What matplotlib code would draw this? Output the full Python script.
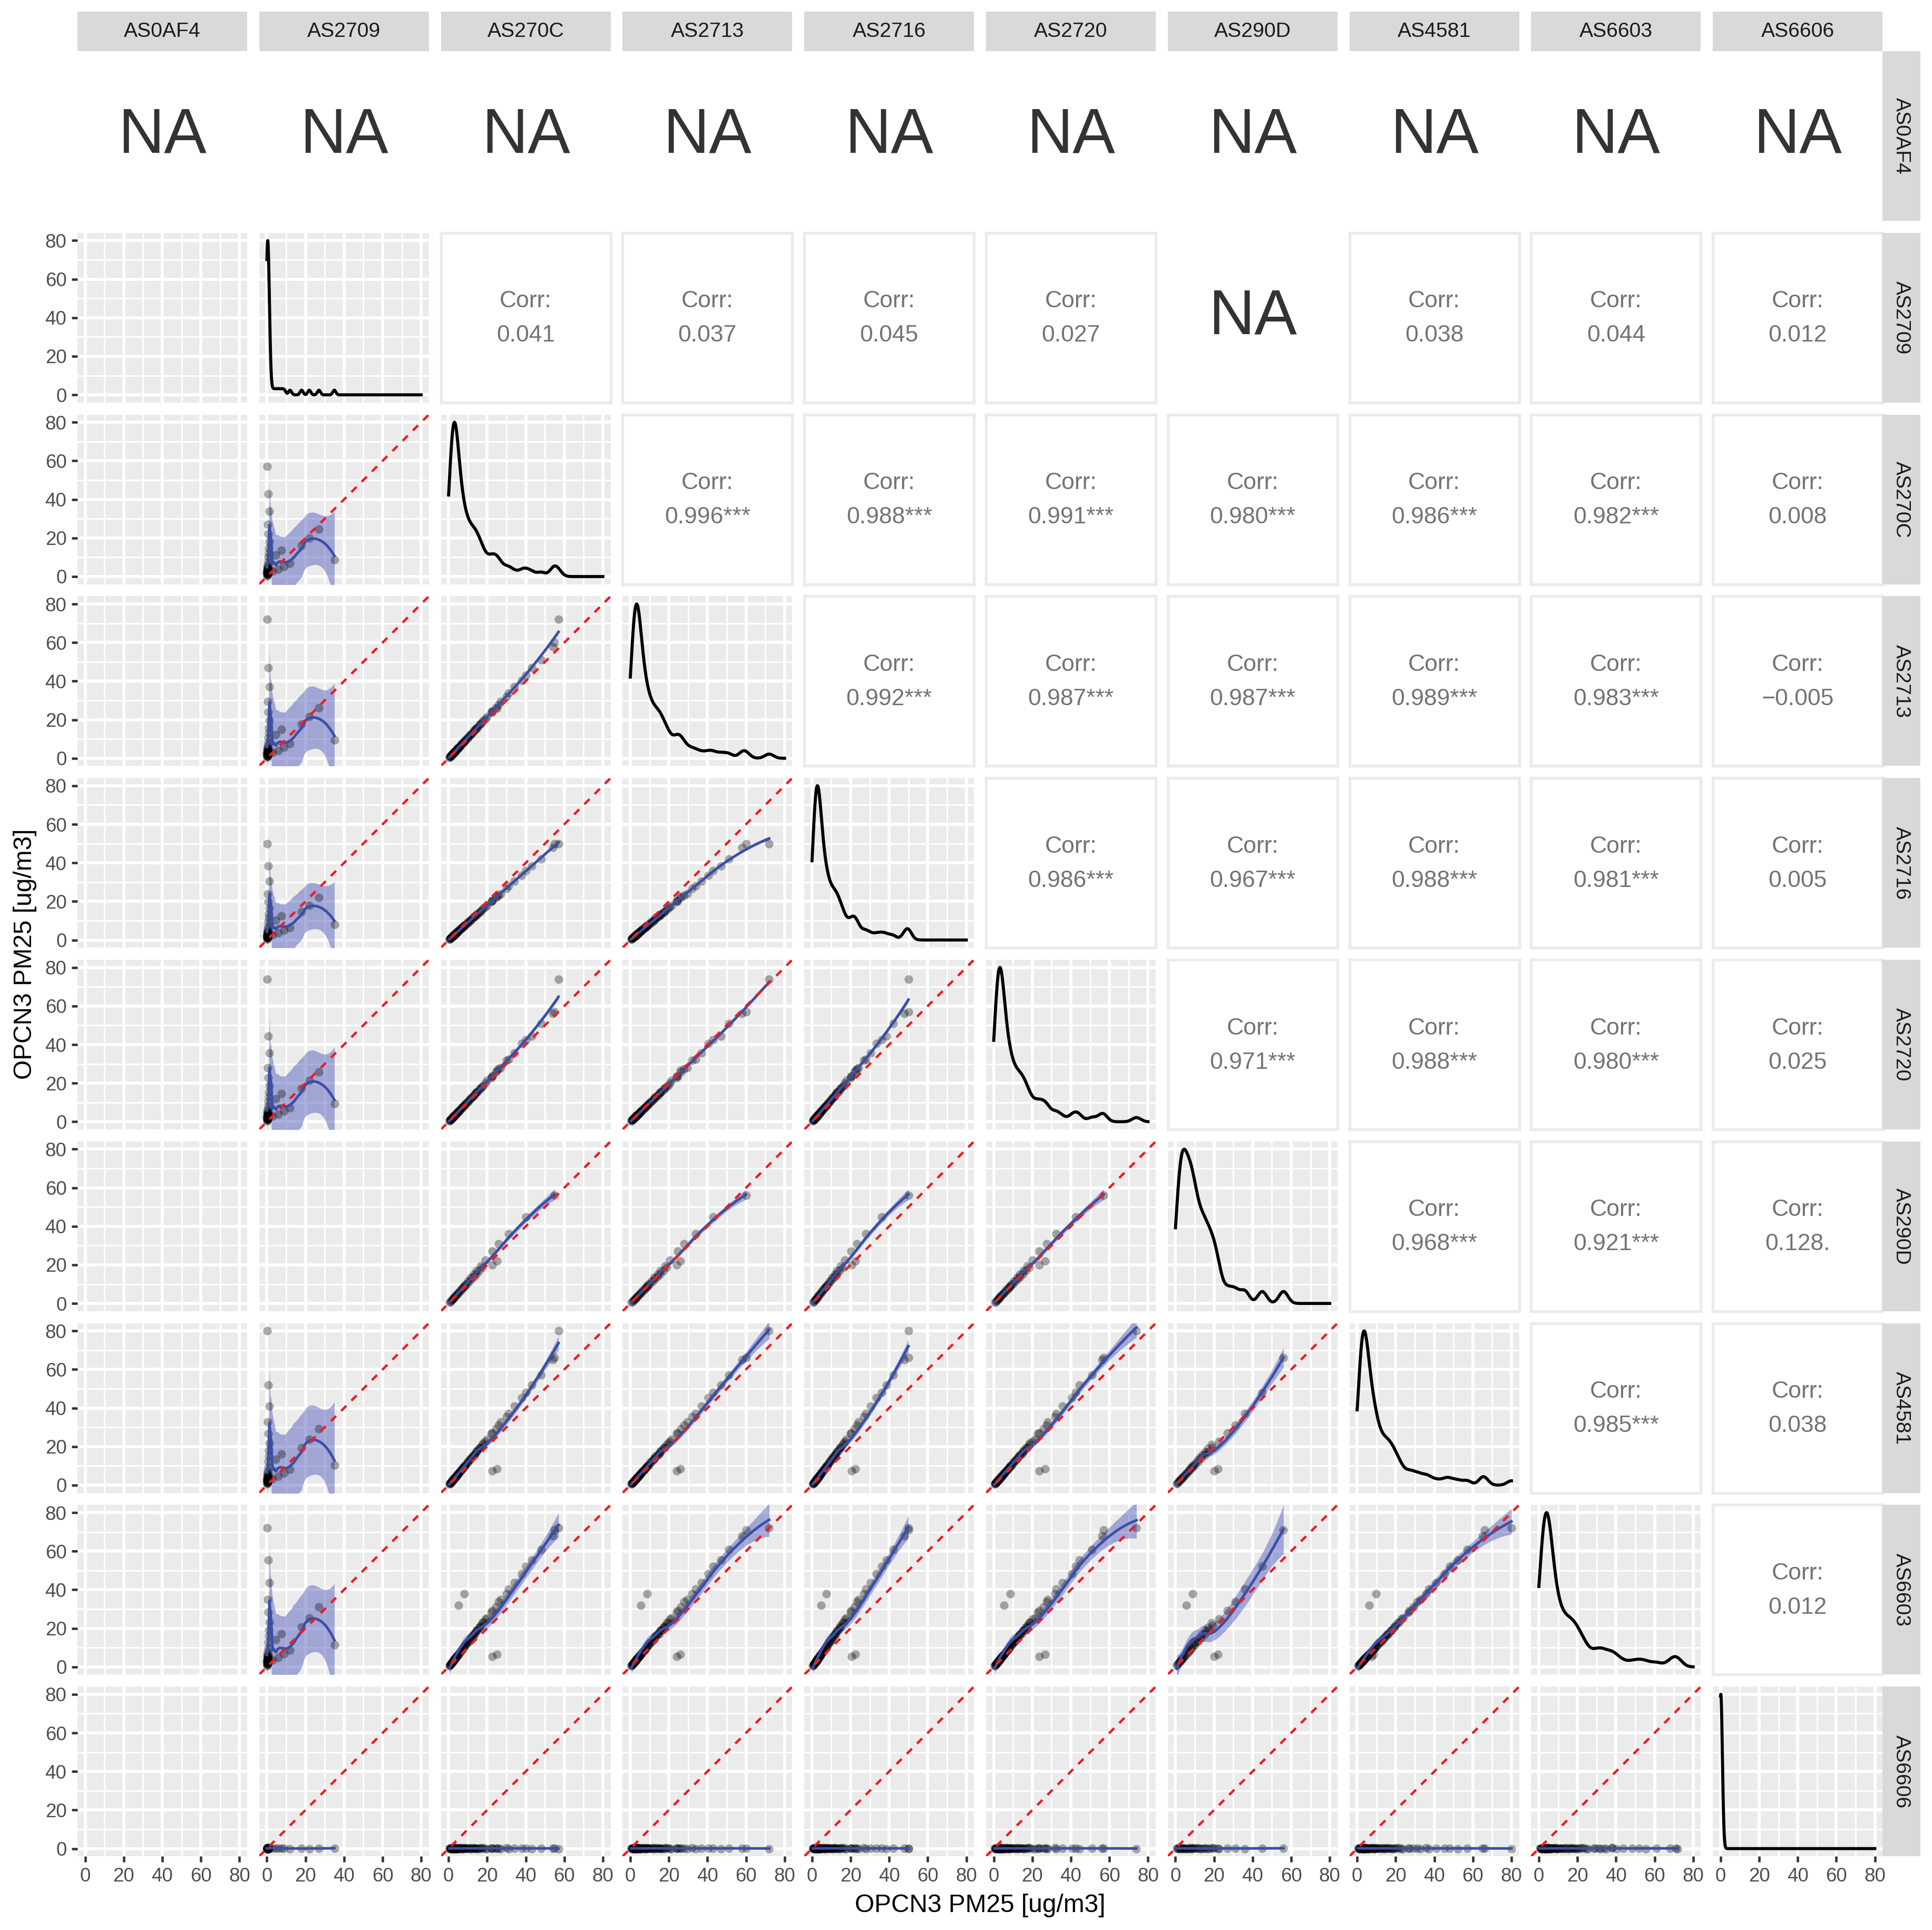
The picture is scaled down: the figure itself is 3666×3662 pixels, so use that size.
import numpy as np
import matplotlib
matplotlib.use("Agg")
import matplotlib.pyplot as plt

plt.rcParams['font.family'] = ['Liberation Sans', 'DejaVu Sans']

nan = np.nan

sensors = ["AS0AF4", "AS2709", "AS270C", "AS2713", "AS2716",
           "AS2720", "AS290D", "AS4581", "AS6603", "AS6606"]

# PM2.5 readings per sensor, same position = same time step.
# block A (36): AS2709 online, block B (28): AS290D online,
# block C (4): odd readings, block D (14): quiet hours with AS2709 online,
# block E (10): moderate hours with AS290D online
as0af4 = [nan] * 92
as2709 = [0.1, 0.2, 0.3, 0.5, 0.2, 0.4, 0.6, 3.0, 0.3, 0.8, 6.0, 0.5, 1.0, 9.0, 0.4, 12.0, 0.7, 35.0,
          0.6, 4.5, 1.1, 7.5, 0.9, 18.0, 1.2, 22.0, 0.8, 27.0, 0.3, nan, 1.2, nan, 0.6, nan, nan, 0.2] \
    + [nan] * 28 + [nan] * 4 \
    + [0.1, 0.3, 0.2, 0.4, 0.0, 0.5, 0.2, 0.3, 0.6, 0.1, 0.4, 0.2, 0.3, 0.1] \
    + [nan] * 10
as270c = [0.4, 0.8, 1.2, 1.5, 1.9, 2.2, 2.5, 2.8, 3.1, 3.4, 3.8, 4.2, 4.7, 5.3, 6.0, 6.8, 7.7, 8.8,
          10.0, 11.2, 12.4, 13.6, 14.8, 16.2, 18.0, 20.0, 22.0, 24.5, 27.0, 30.0, 34.0, 38.0, 43.0, 48.0, 54.0, 57.0] \
    + [0.6, 1.0, 1.4, 1.8, 2.1, 2.4, 2.7, 3.0, 3.3, 3.7, 4.1, 4.6, 5.2, 5.9, 6.7, 7.6, 8.7, 10.0,
       11.5, 13.0, 14.5, 16.5, 19.0, 22.5, 26.0, 31.0, 40.0, 55.0] \
    + [22.5, 25.0, 5.0, 8.0] \
    + [1.0, 1.3, 1.6, 2.0, 2.3, 2.6, 2.9, 3.2, 3.5, 3.9, 4.4, 5.0, 2.4, 2.7] \
    + [6.5, 7.4, 8.3, 9.5, 10.8, 12.0, 13.2, 14.4, 15.8, 17.5]
as2713 = [0.5, 0.9, 1.3, 1.7, 2.0, 2.4, 2.8, 3.0, 3.4, 3.6, 4.1, 4.6, 5.0, 5.8, 6.4, 7.5, 8.2, 9.6,
          10.7, 12.3, 13.2, 14.9, 15.8, 17.6, 19.6, 21.4, 24.0, 26.2, 29.5, 32.0, 37.0, 40.5, 47.0, 51.0, 58.0, 72.0] \
    + [0.6, 1.1, 1.5, 2.0, 2.2, 2.6, 3.0, 3.2, 3.6, 4.0, 4.4, 5.0, 5.6, 6.3, 7.3, 8.2, 9.4, 10.9,
       12.3, 14.2, 15.6, 17.9, 20.4, 24.5, 27.9, 33.8, 43.0, 60.0] \
    + [24.0, 26.0, 5.5, 8.8] \
    + [1.1, 1.4, 1.8, 2.1, 2.5, 2.8, 3.2, 3.4, 3.8, 4.3, 4.7, 5.5, 2.6, 2.9] \
    + [7.0, 8.0, 9.0, 10.2, 11.7, 12.9, 14.3, 15.5, 17.1, 18.9]
as2716 = [0.4, 0.8, 1.2, 1.4, 1.9, 2.1, 2.5, 2.7, 3.0, 3.4, 3.6, 4.1, 4.5, 5.0, 5.8, 6.4, 7.3, 8.2,
          9.4, 10.3, 11.6, 12.4, 13.6, 14.7, 16.5, 17.8, 19.9, 22.0, 24.0, 26.8, 30.5, 33.5, 38.5, 42.0, 48.0, 50.0] \
    + [0.5, 0.9, 1.3, 1.7, 1.9, 2.2, 2.5, 2.8, 3.0, 3.4, 3.7, 4.2, 4.7, 5.3, 6.1, 6.8, 7.9, 9.0,
       10.3, 11.8, 13.0, 14.9, 17.0, 20.4, 23.2, 28.0, 36.0, 50.0] \
    + [20.5, 22.5, 4.8, 7.4] \
    + [0.9, 1.2, 1.4, 1.8, 2.1, 2.3, 2.6, 2.9, 3.2, 3.5, 3.9, 4.5, 2.2, 2.4] \
    + [5.9, 6.6, 7.5, 8.6, 9.7, 10.8, 11.9, 13.0, 14.2, 15.8]
as2720 = [0.4, 0.9, 1.3, 1.6, 2.0, 2.3, 2.7, 2.9, 3.3, 3.6, 4.0, 4.4, 5.0, 5.5, 6.4, 7.1, 8.0, 9.3,
          10.4, 11.9, 12.9, 14.5, 15.4, 17.2, 18.8, 21.3, 22.9, 25.8, 28.0, 31.7, 35.5, 40.5, 44.5, 51.0, 56.0, 74.0] \
    + [0.6, 1.1, 1.5, 1.9, 2.2, 2.5, 2.9, 3.1, 3.5, 3.9, 4.3, 4.8, 5.5, 6.2, 7.0, 8.0, 9.1, 10.6,
       12.1, 13.6, 15.3, 17.2, 20.1, 23.5, 27.5, 32.4, 42.5, 57.0] \
    + [23.5, 26.5, 5.3, 8.5] \
    + [1.0, 1.4, 1.7, 2.1, 2.4, 2.7, 3.1, 3.3, 3.7, 4.1, 4.6, 5.2, 2.5, 2.8] \
    + [6.8, 7.8, 8.7, 10.0, 11.3, 12.6, 13.9, 15.1, 16.6, 18.4]
as290d = [nan] * 36 \
    + [0.6, 1.0, 1.5, 1.9, 2.3, 2.6, 2.9, 3.3, 3.6, 4.1, 4.5, 5.1, 5.8, 6.6, 7.6, 8.6, 9.9, 11.5,
       13.3, 15.2, 17.0, 19.4, 22.5, 27.0, 31.0, 36.0, 45.0, 56.0] \
    + [20.0, 22.0, 5.6, 9.0] \
    + [nan] * 14 \
    + [7.0, 7.9, 8.9, 10.2, 11.6, 12.8, 14.1, 15.4, 16.9, 18.7]
as4581 = [0.5, 1.0, 1.4, 1.8, 2.3, 2.6, 3.1, 3.3, 3.8, 4.0, 4.6, 5.0, 5.7, 6.3, 7.3, 8.1, 9.3, 10.5,
          12.2, 13.3, 15.0, 16.2, 18.0, 19.3, 21.8, 23.8, 26.8, 29.2, 32.8, 35.6, 41.0, 45.3, 52.0, 57.0, 65.0, 80.0] \
    + [0.7, 1.2, 1.7, 2.2, 2.5, 2.9, 3.2, 3.6, 4.0, 4.4, 4.9, 5.5, 6.2, 7.1, 8.0, 9.1, 10.4, 12.0,
       13.8, 15.6, 17.4, 19.8, 22.8, 27.0, 31.2, 37.2, 48.0, 66.0] \
    + [7.5, 8.5, 6.2, 9.8] \
    + [1.2, 1.5, 1.9, 2.4, 2.8, 3.1, 3.5, 3.8, 4.2, 4.7, 5.3, 6.0, 2.9, 3.2] \
    + [7.8, 8.9, 10.0, 11.4, 13.0, 14.4, 15.8, 17.3, 19.0, 21.0]
as6603 = [0.5, 1.0, 1.5, 1.9, 2.4, 2.8, 3.3, 3.5, 4.0, 4.3, 4.9, 5.4, 6.0, 6.8, 7.8, 8.6, 9.9, 11.4,
          12.8, 14.2, 16.0, 17.2, 19.1, 20.6, 23.2, 25.4, 28.4, 31.2, 35.0, 38.0, 43.6, 48.4, 55.5, 61.0, 68.0, 72.0] \
    + [0.8, 1.3, 1.8, 2.3, 2.7, 3.1, 3.5, 3.9, 4.3, 4.8, 5.3, 6.0, 6.8, 7.7, 8.7, 9.9, 11.3, 13.0,
       15.0, 16.9, 18.9, 21.5, 24.7, 29.3, 33.8, 40.3, 52.0, 71.0] \
    + [5.5, 6.5, 32.0, 38.0] \
    + [1.3, 1.7, 2.1, 2.6, 3.0, 3.4, 3.8, 4.2, 4.5, 5.1, 5.7, 6.5, 3.1, 3.5] \
    + [8.5, 9.6, 10.8, 12.4, 14.0, 15.6, 17.2, 18.7, 20.5, 22.8]
as6606 = [0.1, 0.0, 0.2, 0.1, 0.3, 0.0, 0.1, 0.2, 0.0, 0.4, 0.1, 0.0, 0.2, 0.1, 0.3, 0.0, 0.1, 0.2,
          0.0, 0.1, 0.3, 0.2, 0.0, 0.1, 0.4, 0.0, 0.2, 0.1, 0.0, 0.3, 0.1, 0.2, 0.0, 0.1, 0.2, 0.0] \
    + [0.2, 0.1, 0.0, 0.3, 0.1, 0.0, 0.2, 0.1, 0.4, 0.0, 0.1, 0.2, 0.0, 0.1, 0.3, 0.0, 0.2, 0.1,
       0.0, 0.2, 0.1, 0.3, 0.0, 0.1, 0.2, 0.0, 0.1, 0.2] \
    + [0.1, 0.2, 0.0, 0.3] \
    + [0.0, 0.2, 0.1, 0.3, 0.0, 0.1, 0.2, 0.0, 0.1, 0.3, 0.0, 0.2, 0.1, 0.0] \
    + [0.1, 0.0, 0.2, 0.1, 0.3, 0.0, 0.2, 0.1, 0.0, 0.1]

readings = [as0af4, as2709, as270c, as2713, as2716, as2720, as290d, as4581, as6603, as6606]
readings = [np.array(r, dtype=float) for r in readings]

# correlation labels of the upper triangle (row sensor vs later sensors)
corr_as0af4 = ["NA"] * 10
corr_as2709 = ["0.041", "0.037", "0.045", "0.027", "NA", "0.038", "0.044", "0.012"]
corr_as270c = ["0.996***", "0.988***", "0.991***", "0.980***", "0.986***", "0.982***", "0.008"]
corr_as2713 = ["0.992***", "0.987***", "0.987***", "0.989***", "0.983***", "\u22120.005"]
corr_as2716 = ["0.986***", "0.967***", "0.988***", "0.981***", "0.005"]
corr_as2720 = ["0.971***", "0.988***", "0.980***", "0.025"]
corr_as290d = ["0.968***", "0.921***", "0.128."]
corr_as4581 = ["0.985***", "0.038"]
corr_as6603 = ["0.012"]
corr_rows = [corr_as0af4, corr_as2709, corr_as270c, corr_as2713, corr_as2716,
             corr_as2720, corr_as290d, corr_as4581, corr_as6603, []]

axis_title = "OPCN3 PM25 [ug/m3]"
major = [0, 20, 40, 60, 80]
minor = [10, 30, 50, 70]


def loess(x, y, grid, span=0.75):
    n = len(x)
    q = max(int(np.floor(n * span)), 3)

    def op_row(x0):
        d = np.abs(x - x0)
        h = max(np.sort(d)[q - 1], 1e-9)
        w = np.clip(1 - (d / h) ** 3, 0, None) ** 3
        X = np.column_stack([np.ones(n), x - x0, (x - x0) ** 2])
        XtW = X.T * w
        return np.linalg.pinv(XtW @ X)[0] @ XtW

    L = np.array([op_row(v) for v in x])
    res = y - L @ y
    delta = n - 2 * np.trace(L) + np.sum(L * L)
    s2 = np.sum(res ** 2) / max(delta, 1)
    Lg = np.array([op_row(v) for v in grid])
    return Lg @ y, np.sqrt(s2 * np.sum(Lg ** 2, axis=1))


def density(x, grid, adjust=0.6, bw_min=0.8):
    sd = np.std(x, ddof=1)
    iqr = np.subtract(*np.percentile(x, [75, 25]))
    lo = min(sd, iqr / 1.34) if iqr > 0 else sd
    bw = max(0.9 * lo * len(x) ** -0.2 * adjust, bw_min)
    z = (grid[:, None] - x[None, :]) / bw
    return np.exp(-0.5 * z ** 2).sum(axis=1) / (len(x) * bw * np.sqrt(2 * np.pi))


W, H = 3666, 3662
fig = plt.figure(figsize=(W / 300, H / 300), dpi=300)
left0, top0, pitch, size = 147, 97, 344.8, 322


def box(px, py, pw, ph):
    return [px / W, 1 - (py + ph) / H, pw / W, ph / H]


def grey_panel(ax):
    ax.set_facecolor('#EBEBEB')
    ax.set_xlim(-4, 84)
    ax.set_ylim(-4, 84)
    ax.set_xticks(major)
    ax.set_yticks(major)
    ax.set_xticks(minor, minor=True)
    ax.set_yticks(minor, minor=True)
    ax.grid(which='major', color='white', lw=1.4)
    ax.grid(which='minor', color='white', lw=0.7)
    ax.set_axisbelow(True)
    for s in ax.spines.values():
        s.set_visible(False)
    ax.tick_params(which='both', length=0, labelleft=False, labelbottom=False)


def white_panel(ax, border):
    ax.set_xticks([])
    ax.set_yticks([])
    ax.set_facecolor('white')
    for s in ax.spines.values():
        s.set_visible(border)
        s.set_color('#EBEBEB')
        s.set_linewidth(1.3)


for i in range(10):
    for j in range(10):
        ax = fig.add_axes(box(left0 + pitch * j, top0 + pitch * i, size, size))
        yi, xj = readings[i], readings[j]
        if i <= j:
            label = "NA" if i == 0 else (corr_rows[i][j - i - 1] if i < j else None)
            if label == "NA":
                white_panel(ax, False)
                ax.text(0.5, 0.5, "NA", ha='center', va='center', fontsize=29,
                        color='#333333', transform=ax.transAxes)
            elif label is not None:
                white_panel(ax, True)
                ax.text(0.5, 0.596, "Corr:", ha='center', va='center', fontsize=10.7,
                        color='#737373', transform=ax.transAxes)
                ax.text(0.5, 0.394, label, ha='center', va='center', fontsize=10.7,
                        color='#737373', transform=ax.transAxes)
            else:
                grey_panel(ax)
                v = xj[~np.isnan(xj)]
                g = np.linspace(0, 80, 1024)
                d = density(v, g)
                ax.plot(g, d / d.max() * 80, color='black', lw=1.4)
        else:
            grey_panel(ax)
            ok = ~np.isnan(xj) & ~np.isnan(yi)
            if ok.sum() > 3:
                x, y = xj[ok], yi[ok]
                ax.plot(x, y, 'o', ms=3.9, mew=0, color='black', alpha=0.32)
                g = np.linspace(x.min(), x.max(), 80)
                fit, se = loess(x, y, g)
                ax.fill_between(g, fit - 2 * se, fit + 2 * se, color='#3944B3',
                                alpha=0.42, lw=0)
                ax.plot(g, fit, color='#3A4FA6', lw=1.2)
                ax.plot([-4, 84], [-4, 84], color='#EE1C25', lw=1.1, ls=(0, (3, 3)))
        if j == 0 and i > 0:
            ax.tick_params(axis='y', which='major', length=2.75, width=1.1, color='#333333',
                           labelleft=True, labelsize=8.8, labelcolor='#4D4D4D', pad=2.2)
        if i == 9:
            ax.tick_params(axis='x', which='major', length=2.75, width=1.1, color='#333333',
                           labelbottom=True, labelsize=8.8, labelcolor='#4D4D4D', pad=2.2)

# strips
for j, name in enumerate(sensors):
    s = fig.add_axes(box(left0 + pitch * j, 22, size, 75))
    s.set_facecolor('#D9D9D9')
    s.set_xticks([])
    s.set_yticks([])
    for sp in s.spines.values():
        sp.set_visible(False)
    s.text(0.5, 0.5, name, ha='center', va='center', fontsize=9.4, color='#1A1A1A',
           transform=s.transAxes)
for i, name in enumerate(sensors):
    s = fig.add_axes(box(3572, top0 + pitch * i, 72, size))
    s.set_facecolor('#D9D9D9')
    s.set_xticks([])
    s.set_yticks([])
    for sp in s.spines.values():
        sp.set_visible(False)
    s.text(0.5, 0.5, name, ha='center', va='center', fontsize=9.4, color='#1A1A1A',
           rotation=-90, transform=s.transAxes)

fig.text(1860 / W, 1 - 3615 / H, axis_title, ha='center', va='center', fontsize=11.5)
fig.text(48 / W, 1 - 1810 / H, axis_title, ha='center', va='center', fontsize=11.5,
         rotation=90)

fig.savefig("out.png", dpi=300, facecolor='white')
